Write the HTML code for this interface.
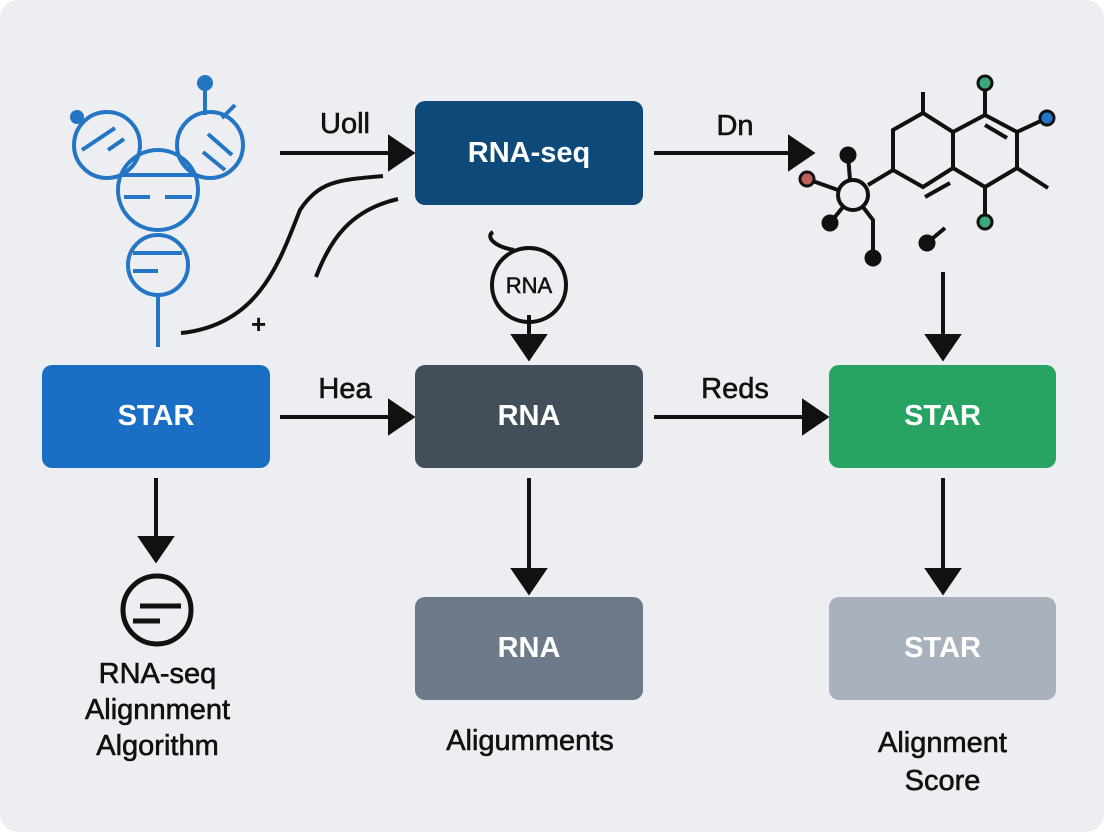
<!DOCTYPE html>
<html><head><style>
body{margin:0;background:#fff;}
.bg{position:absolute;left:0;top:0;width:1104px;height:832px;background:#eceef1;border-radius:18px;overflow:hidden;font-family:"Liberation Sans",sans-serif;}
.box{position:absolute;border-radius:10px;color:#fff;font-size:29px;font-weight:bold;display:flex;align-items:center;justify-content:center;}
.t{position:absolute;color:#111;font-size:29px;text-align:center;-webkit-text-stroke:0.6px #111;}
</style></head><body>
<div class="bg">
<svg width="1104" height="832" style="position:absolute;left:0;top:0">
<g stroke="#111" stroke-width="4" fill="#111">
<line x1="280" y1="153" x2="392" y2="153"/><path d="M390,138 L412,153 L390,168Z"/>
<line x1="654" y1="153" x2="792" y2="153"/><path d="M790,138 L812,153 L790,168Z"/>
<line x1="280" y1="417" x2="392" y2="417"/><path d="M390,402 L412,417 L390,432Z"/>
<line x1="654" y1="417" x2="806" y2="417"/><path d="M804,402 L826,417 L804,432Z"/>
<line x1="156" y1="478" x2="156" y2="540"/><path d="M141,538 L156,560 L171,538Z"/>
<line x1="529" y1="478" x2="529" y2="572"/><path d="M514,570 L529,592 L544,570Z"/>
<line x1="943" y1="478" x2="943" y2="572"/><path d="M928,570 L943,592 L958,570Z"/>
<line x1="943" y1="272" x2="943" y2="338"/><path d="M928,336 L943,358 L958,336Z"/>
<line x1="529" y1="315" x2="529" y2="338"/><path d="M514,336 L529,358 L544,336Z"/>
</g>
<g fill="none" stroke="#111" stroke-width="4">
<path d="M181,333 C260,325 280,260 300,210 C320,180 340,180 383,176"/>
<path d="M316,277 C330,240 350,210 398,199"/>
<circle cx="529" cy="285" r="37"/>
<path d="M514,250 C492,246 486,236 493,232"/>
<circle cx="157" cy="610" r="34" stroke-width="5"/>
<line x1="140" y1="606" x2="181" y2="606" stroke-width="5"/><line x1="133" y1="621" x2="160" y2="621" stroke-width="5"/>
</g>
<text x="251" y="333" font-size="26" font-weight="bold" font-family="Liberation Sans" fill="#111">+</text>
<text x="529" y="293" font-size="22" text-anchor="middle" font-family="Liberation Sans" fill="#111" stroke="#111" stroke-width="0.5">RNA</text>
<g fill="none" stroke="#2476c4" stroke-width="4">
<circle cx="158" cy="190" r="40"/><circle cx="158" cy="265" r="30"/>
<circle cx="107" cy="145" r="33"/><circle cx="210" cy="145" r="33"/>
<line x1="158" y1="295" x2="158" y2="347"/>
<line x1="205" y1="83" x2="205" y2="115"/><line x1="235" y1="105" x2="222" y2="118"/>
<line x1="122" y1="175" x2="194" y2="175"/><line x1="124" y1="197" x2="150" y2="197"/><line x1="165" y1="197" x2="192" y2="197"/>
<line x1="133" y1="253" x2="182" y2="253"/><line x1="133" y1="271" x2="158" y2="271"/>
<line x1="82" y1="150" x2="115" y2="128"/><line x1="108" y1="150" x2="124" y2="139"/>
<line x1="203" y1="152" x2="225" y2="170"/><line x1="208" y1="134" x2="232" y2="155"/>
</g>
<g fill="#2476c4"><circle cx="205" cy="83" r="8"/><circle cx="77" cy="117" r="7"/></g>
<g fill="none" stroke="#111" stroke-width="4">
<path d="M923,113 L953,132 L953,168 L923,187 L893,170 L893,130 Z"/>
<path d="M953,132 L985,115 L1017,132 L1017,168 L985,187 L953,168"/>
<line x1="985" y1="125" x2="1007" y2="138"/><line x1="925" y1="197" x2="950" y2="183"/>
<line x1="923" y1="113" x2="923" y2="92"/><line x1="985" y1="115" x2="985" y2="83"/>
<line x1="1017" y1="132" x2="1047" y2="118"/><line x1="1017" y1="168" x2="1048" y2="188"/>
<line x1="985" y1="187" x2="985" y2="222"/>
<line x1="893" y1="170" x2="868" y2="185"/>
<circle cx="853" cy="195" r="15"/>
<line x1="848" y1="155" x2="850" y2="180"/><line x1="807" y1="179" x2="838" y2="190"/>
<line x1="830" y1="223" x2="843" y2="207"/><path d="M863,207 L873,220 L873,258"/>
<line x1="927" y1="243" x2="945" y2="228"/>
</g>
<g stroke="#111" stroke-width="3">
<circle cx="848" cy="155" r="7" fill="#111"/><circle cx="807" cy="179" r="7" fill="#c0605a"/>
<circle cx="830" cy="223" r="7" fill="#111"/><circle cx="873" cy="258" r="7" fill="#111"/>
<circle cx="927" cy="243" r="7" fill="#111"/>
<circle cx="985" cy="83" r="7" fill="#3aa878"/><circle cx="985" cy="222" r="7" fill="#3aa878"/>
<circle cx="1047" cy="118" r="7" fill="#2477c8"/>
</g>
</svg>
<div class="box" style="left:415px;top:101px;width:228px;height:104px;background:#0d4a7a">RNA-seq</div>
<div class="box" style="left:42px;top:365px;width:228px;height:103px;background:#1a6fc4">STAR</div>
<div class="box" style="left:415px;top:365px;width:228px;height:103px;background:#434e5b">RNA</div>
<div class="box" style="left:829px;top:365px;width:227px;height:103px;background:#27a463">STAR</div>
<div class="box" style="left:415px;top:597px;width:228px;height:103px;background:#6c7a8a">RNA</div>
<div class="box" style="left:829px;top:597px;width:227px;height:103px;background:#a9b2bc">STAR</div>
<div class="t" style="left:300px;top:108px;width:90px">Uoll</div>
<div class="t" style="left:690px;top:110px;width:90px">Dn</div>
<div class="t" style="left:300px;top:373px;width:90px">Hea</div>
<div class="t" style="left:680px;top:373px;width:110px">Reds</div>
<div class="t" style="left:40px;top:656px;width:235px;line-height:36px">RNA-seq<br>Alignnment<br>Algorithm</div>
<div class="t" style="left:400px;top:725px;width:260px">Aligumments</div>
<div class="t" style="left:820px;top:724px;width:245px;line-height:38px">Alignment<br>Score</div>
</div>
</body></html>
